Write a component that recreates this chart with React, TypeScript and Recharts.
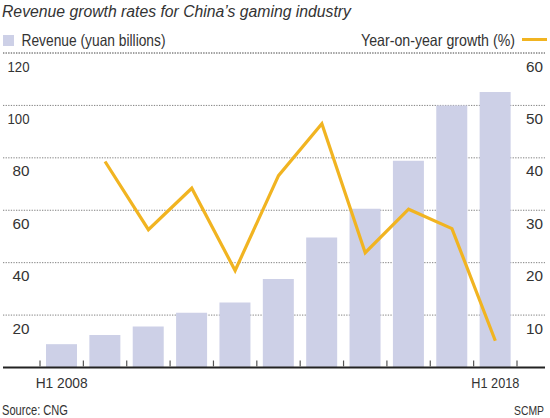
import React from 'react'
import { ComposedChart, Bar, Line, XAxis, YAxis, CartesianGrid } from 'recharts'

const periods = ['H1 2008', 'H1 2009', 'H1 2010', 'H1 2011', 'H1 2012', 'H1 2013', 'H1 2014', 'H1 2015', 'H1 2016', 'H1 2017', 'H1 2018']
const revenue = [8.9, 12.4, 15.6, 20.9, 24.8, 33.8, 49.6, 60.6, 78.9, 100, 105.1]
const growth = [null, 39.3, 26.3, 34.2, 18.5, 36.6, 46.5, 21.9, 30.2, 26.5, 5.1]
const revenueTicks = [20, 40, 60, 80, 100, 120]
const growthTicks = [10, 20, 30, 40, 50, 60]

const W = 550
const H = 418
const margin = { top: 53, right: 5, bottom: 20.5, left: 3 }
const padL = 37
const padR = 28
const band = (W - margin.left - margin.right - padL - padR) / periods.length

const FONT = '"Liberation Sans", Arial, sans-serif'
const TEXT = '#333'
const BAR = '#cdd0e7'
const LINE = '#f1b421'
const GRID = '#808080'

const data = periods.map((p, i) => ({ period: p, revenue: revenue[i], growth: growth[i] }))

const numWidth = (v: number) => (String(v).length > 2 ? 22 : 17)

const XTick = (props: any) => {
    const { x, y, payload, index } = props
    const last = index === periods.length - 1
    const showLabel = index === 0 || last
    return (
        <g>
            <line x1={x - band / 2} x2={x - band / 2} y1={y - 1} y2={y - 7} stroke="#555" strokeWidth={1.2} />
            {last && <line x1={x + band / 2} x2={x + band / 2} y1={y - 1} y2={y - 7} stroke="#555" strokeWidth={1.2} />}
            {showLabel && (
                <text
                    x={x}
                    y={y + 20}
                    textAnchor="middle"
                    fontFamily={FONT}
                    fontSize={15.5}
                    fill={TEXT}
                    textLength={last ? 48 : 52}
                    lengthAdjust="spacingAndGlyphs"
                >
                    {payload.value}
                </text>
            )}
        </g>
    )
}

const LeftTick = (props: any) => (
    <text
        x={29.5}
        y={props.y + 18.5}
        textAnchor="end"
        fontFamily={FONT}
        fontSize={15.5}
        fill={TEXT}
        textLength={numWidth(props.payload.value)}
        lengthAdjust="spacingAndGlyphs"
    >
        {props.payload.value}
    </text>
)

const RightTick = (props: any) => (
    <text
        x={543}
        y={props.y + 18.5}
        textAnchor="end"
        fontFamily={FONT}
        fontSize={15.5}
        fill={TEXT}
        textLength={numWidth(props.payload.value)}
        lengthAdjust="spacingAndGlyphs"
    >
        {props.payload.value}
    </text>
)

const App = () => {
    return (
        <div style={{ position: 'absolute', left: 0, top: 0, width: W, height: H, background: '#fff' }}>
            <ComposedChart width={W} height={H} data={data} margin={margin}>
                <CartesianGrid
                    yAxisId="rev"
                    vertical={false}
                    stroke={GRID}
                    strokeDasharray="1.3 1.3"
                />
                <XAxis
                    dataKey="period"
                    interval={0}
                    height={30}
                    padding={{ left: padL, right: padR }}
                    tickLine={false}
                    tickSize={0}
                    tickMargin={0}
                    axisLine={{ stroke: '#222', strokeWidth: 2 }}
                    tick={(p: any) => <XTick {...p} />}
                />
                <YAxis
                    yAxisId="rev"
                    domain={[0, 120]}
                    ticks={revenueTicks}
                    mirror
                    axisLine={false}
                    tickLine={false}
                    tick={(p: any) => <LeftTick {...p} />}
                />
                <YAxis
                    yAxisId="g"
                    orientation="right"
                    domain={[0, 60]}
                    ticks={growthTicks}
                    mirror
                    axisLine={false}
                    tickLine={false}
                    tick={(p: any) => <RightTick {...p} />}
                />
                <Bar yAxisId="rev" dataKey="revenue" fill={BAR} barSize={31} isAnimationActive={false} />
                <Line
                    yAxisId="g"
                    type="linear"
                    dataKey="growth"
                    stroke={LINE}
                    strokeWidth={3.2}
                    dot={false}
                    activeDot={false}
                    isAnimationActive={false}
                />
            </ComposedChart>
            <svg width={W} height={H} style={{ position: 'absolute', left: 0, top: 0, pointerEvents: 'none' }}>
                <text
                    x={2}
                    y={16.5}
                    fontFamily={FONT}
                    fontStyle="italic"
                    fontSize={16}
                    fill={TEXT}
                    textLength={349}
                    lengthAdjust="spacingAndGlyphs"
                >
                    Revenue growth rates for China’s gaming industry
                </text>
                <rect x={3} y={35} width={11} height={11} fill={BAR} />
                <text
                    x={21.5}
                    y={45.5}
                    fontFamily={FONT}
                    fontSize={16.5}
                    fill={TEXT}
                    textLength={144}
                    lengthAdjust="spacingAndGlyphs"
                >
                    Revenue (yuan billions)
                </text>
                <text
                    x={361}
                    y={45.5}
                    fontFamily={FONT}
                    fontSize={16.5}
                    fill={TEXT}
                    textLength={154}
                    lengthAdjust="spacingAndGlyphs"
                >
                    Year-on-year growth (%)
                </text>
                <line x1={522} x2={547} y1={39.5} y2={39.5} stroke={LINE} strokeWidth={3} />
                {/* separator under the legend, level with the top gridline */}
                <line x1={3} x2={545} y1={53} y2={53} stroke={GRID} strokeDasharray="1.3 1.3" />
                <text
                    x={2}
                    y={415}
                    fontFamily={FONT}
                    fontSize={14.5}
                    fill={TEXT}
                    textLength={66}
                    lengthAdjust="spacingAndGlyphs"
                >
                    Source: CNG
                </text>
                <text
                    x={544}
                    y={414.5}
                    textAnchor="end"
                    fontFamily={FONT}
                    fontSize={13.5}
                    fill={TEXT}
                    textLength={30}
                    lengthAdjust="spacingAndGlyphs"
                >
                    SCMP
                </text>
            </svg>
        </div>
    )
}

export default App
